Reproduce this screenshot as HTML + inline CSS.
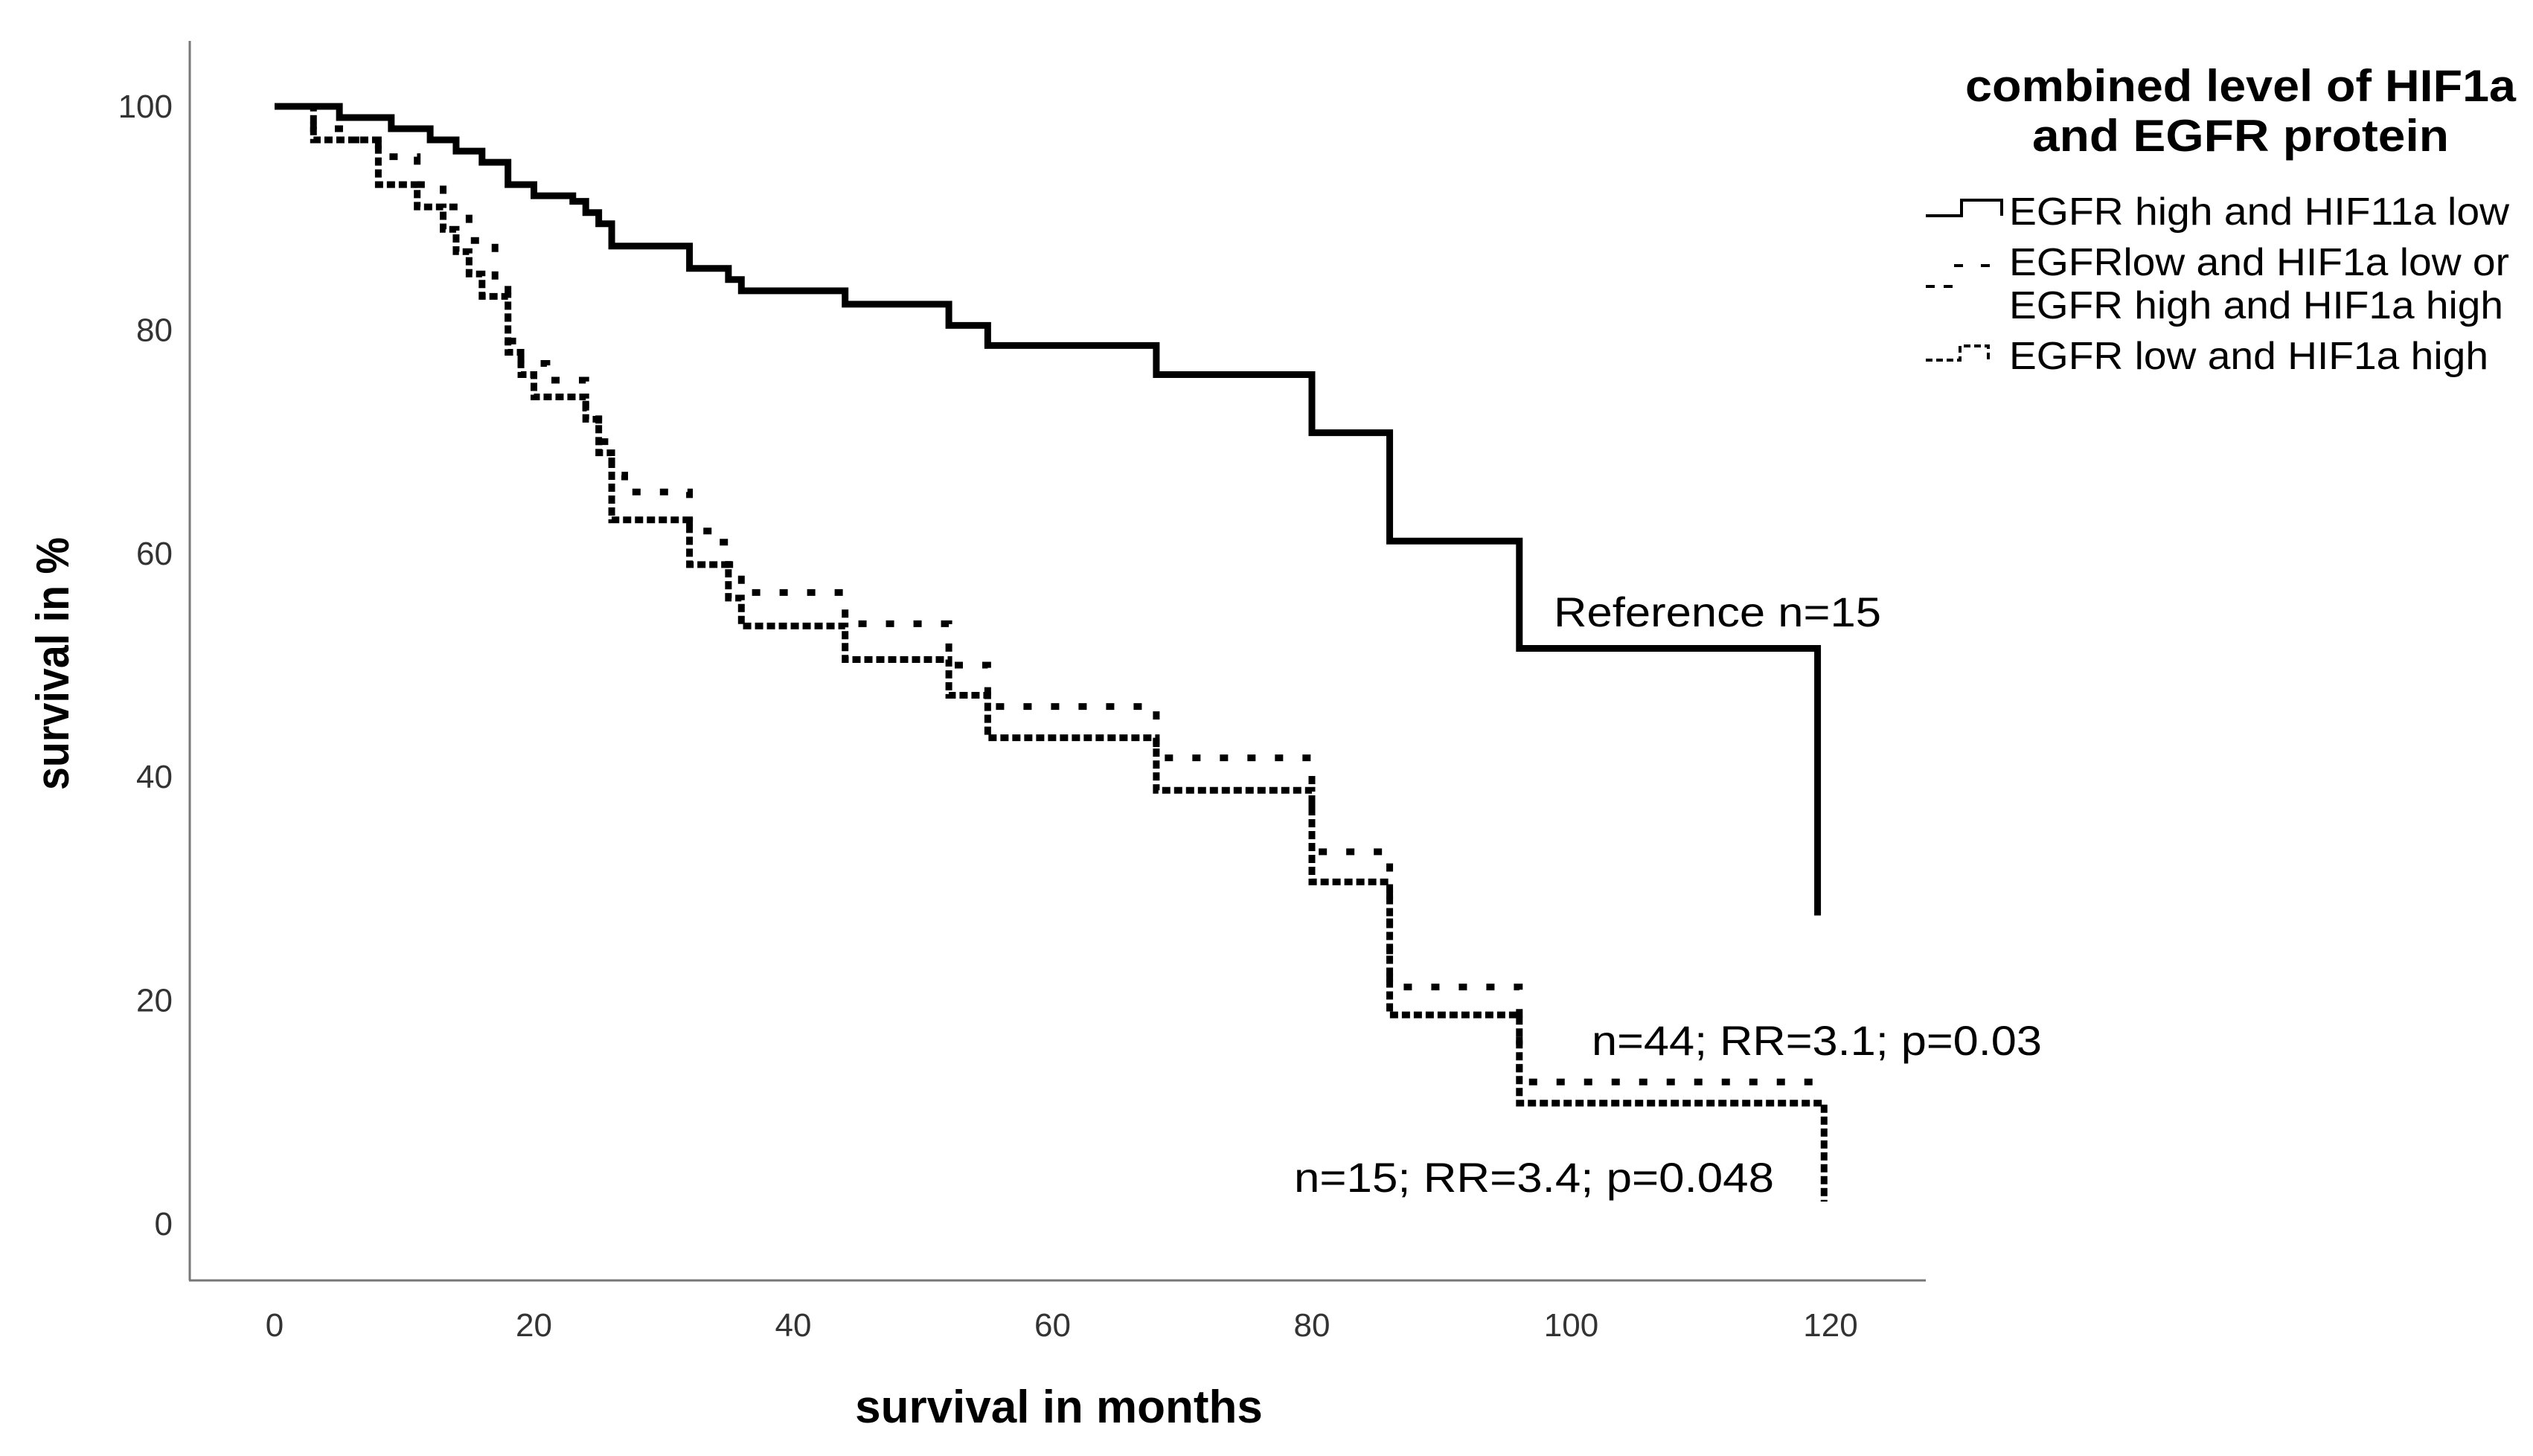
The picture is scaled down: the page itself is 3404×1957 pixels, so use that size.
<!DOCTYPE html>
<html><head><meta charset="utf-8"><style>
html,body{margin:0;padding:0;background:#fff;}
svg{display:block;font-family:"Liberation Sans",Arial,sans-serif;}
</style></head><body>
<svg id="chart" width="3404" height="1957" viewBox="0 0 3404 1957" xmlns="http://www.w3.org/2000/svg">
<g id="axes"></g>
<g id="series"></g>
<text transform="translate(92,892) rotate(-90)" text-anchor="middle" font-size="62" font-weight="bold" textLength="340" lengthAdjust="spacingAndGlyphs">survival in %</text>
<text x="1423" y="1912" text-anchor="middle" font-size="62" font-weight="bold">survival in months</text>
<text x="2088" y="842" font-size="56" textLength="440" lengthAdjust="spacingAndGlyphs">Reference n=15</text>
<text x="2139" y="1418" font-size="56" textLength="605" lengthAdjust="spacingAndGlyphs">n=44; RR=3.1; p=0.03</text>
<text x="1739" y="1602" font-size="56" textLength="645" lengthAdjust="spacingAndGlyphs">n=15; RR=3.4; p=0.048</text>
<g>
<text x="3011" y="136" text-anchor="middle" font-size="60" font-weight="bold" textLength="740" lengthAdjust="spacingAndGlyphs">combined level of HIF1a</text>
<text x="3011" y="203" text-anchor="middle" font-size="60" font-weight="bold" textLength="560" lengthAdjust="spacingAndGlyphs">and EGFR protein</text>
<g>
<path d="M2588 290 H2636 V269 H2690 V290" fill="none" stroke="#000" stroke-width="4"/>
<text x="2700" y="302" font-size="52" textLength="672" lengthAdjust="spacingAndGlyphs">EGFR high and HIF11a low</text>
</g>
<g>
<path d="M2588 385 H2600 M2612 385 H2624 M2626 357 H2638 M2662 357 H2674" fill="none" stroke="#000" stroke-width="4"/>
<text x="2700" y="370" font-size="52" textLength="672" lengthAdjust="spacingAndGlyphs">EGFRlow and HIF1a low or</text>
<text x="2700" y="428" font-size="52" textLength="664" lengthAdjust="spacingAndGlyphs">EGFR high and HIF1a high</text>
</g>
<g>
<path d="M2588 484 H2634 V465 H2672 V484" fill="none" stroke="#000" stroke-width="4" stroke-dasharray="9,5"/>
<text x="2700" y="496" font-size="52" textLength="644" lengthAdjust="spacingAndGlyphs">EGFR low and HIF1a high</text>
</g>
</g>
</svg>
<script>
const xTicks=[0,20,40,60,80,100,120];
const yTicks=[0,20,40,60,80,100];
const s1T=[0,5,9,12,14,16,18,20,23,24,25,26,32,35,36,44,52,55,68,80,86,96,119];
const s1S=[100,99,98,97,96,95,93,92,91.5,90.5,89.5,87.5,85.5,84.5,83.5,82.3,80.4,78.6,76,70.8,61.1,51.5,27.6];
const s2T=[0,3,6,8,11,13,15,17,18,19,21,24,25,26,27,32,34,35,36,44,52,55,68,80,86,96,118.7];
const s2S=[100,98,97,95.5,93,91,88,84,79,77,75.5,73,70,67,65.5,62,61,59,56.5,53.7,50,46.3,41.7,33.3,21.2,12.7,12.7];
const s3T=[0,3,8,11,13,14,15,16,18,19,20,24,25,26,32,35,36,44,52,55,68,80,86,96,119.5];
const s3S=[100,97,93,91,89,87,85,83,78,76,74,72,69,63,59,56,53.5,50.5,47.3,43.5,38.8,30.6,18.7,10.8,2];
const X=m=>369+m*(2460-369)/120;
const Y=v=>1645-v*(1645-143)/100;
const NS='http://www.w3.org/2000/svg';
const ax=document.getElementById('axes');
function mk(tag,attrs,parent){const e=document.createElementNS(NS,tag);for(const k in attrs)e.setAttribute(k,attrs[k]);parent.appendChild(e);return e;}
const yl=mk('line',{x1:255,y1:55,x2:255,y2:1721,stroke:'#777','stroke-width':3},ax);


const xl=mk('line',{x1:254,y1:1721,x2:2588,y2:1721,stroke:'#777','stroke-width':3},ax);


xTicks.forEach(t=>{const e=mk('text',{x:X(t),y:1796,'text-anchor':'middle','font-size':44,fill:'#333'},ax);e.textContent=t;

});
yTicks.forEach(t=>{const e=mk('text',{x:232,y:Y(t)+15,'text-anchor':'end','font-size':44,fill:'#333'},ax);e.textContent=t;

});
function stepPath(T,S){let d='M'+X(T[0])+' '+Y(S[0]);for(let i=1;i<T.length;i++){d+=' H'+X(T[i])+' V'+Y(S[i]);}return d;}
const sg=document.getElementById('series');
const p1=mk('path',{d:stepPath(s1T,s1S),fill:'none',stroke:'#000','stroke-width':9},sg);


const p2=mk('path',{d:stepPath(s2T,s2S),fill:'none',stroke:'#000','stroke-width':9,'stroke-dasharray':'11,26'},sg);


const p3=mk('path',{d:stepPath(s3T,s3S),fill:'none',stroke:'#000','stroke-width':9,'stroke-dasharray':'11,5'},sg);


</script>
</body></html>
